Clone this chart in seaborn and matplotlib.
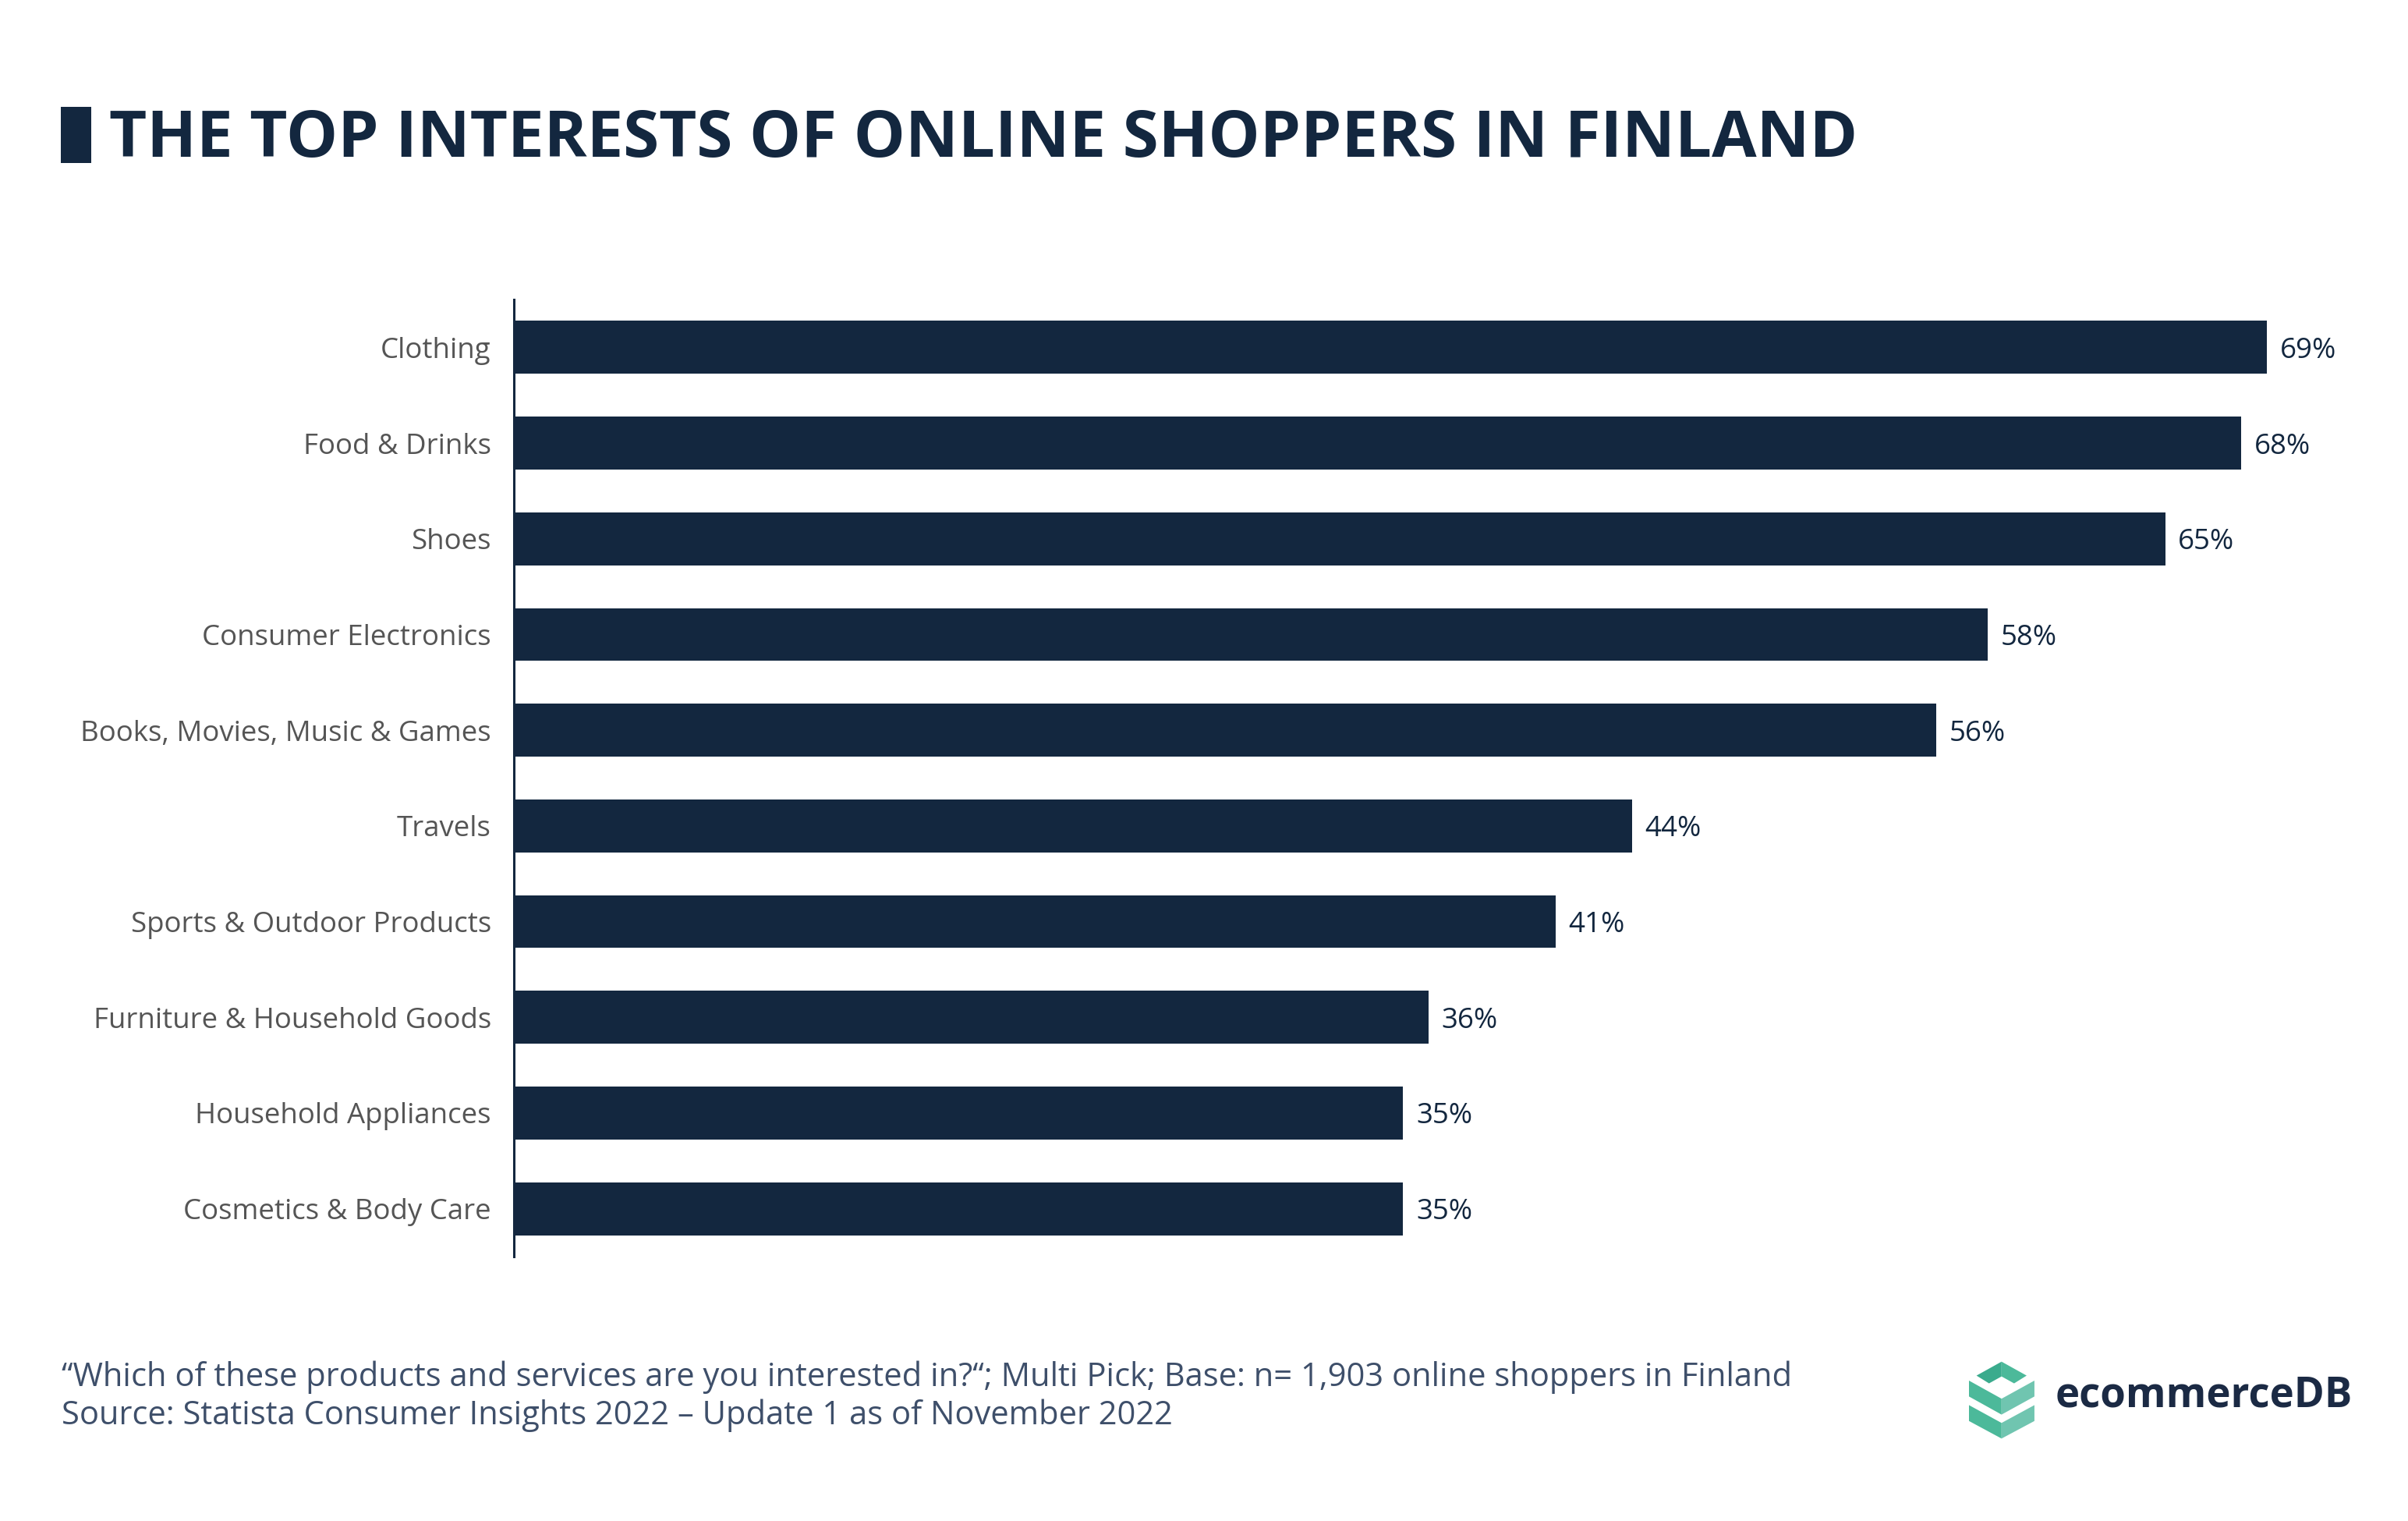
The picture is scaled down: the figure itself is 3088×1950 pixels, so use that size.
import matplotlib
matplotlib.use("Agg")
import matplotlib.pyplot as plt
from matplotlib.patches import Polygon, Rectangle
import seaborn as sns
import pandas as pd

categories = ["Clothing", "Food & Drinks", "Shoes", "Consumer Electronics",
              "Books, Movies, Music & Games", "Travels", "Sports & Outdoor Products",
              "Furniture & Household Goods", "Household Appliances", "Cosmetics & Body Care"]
values = [69, 68, 65, 58, 56, 44, 41, 36, 35, 35]

title = "THE TOP INTERESTS OF ONLINE SHOPPERS IN FINLAND"
footer1 = "\u201cWhich of these products and services are you interested in?\u201c; Multi Pick; Base: n= 1,903 online shoppers in Finland"
footer2 = "Source: Statista Consumer Insights 2022 \u2013 Update 1 as of November 2022"

NAVY = "#13273f"
W, H = 3088, 1950
DPI = 200

sns.set_theme(style="white")
plt.rcParams['font.family'] = ['Open Sans', 'DejaVu Sans']

df = pd.DataFrame({"category": categories, "value": values})

fig = plt.figure(figsize=(W / DPI, H / DPI), dpi=DPI)
ax = fig.add_axes([659 / W, 1 - 1611 / H, (3040 - 659) / W, (1611 - 384) / H])

sns.barplot(data=df, x="value", y="category", color=NAVY, width=0.553,
            saturation=1, ax=ax, orient="h")
for p in ax.patches:
    p.set_edgecolor("none")

ax.set_xlim(0, (3040 - 659) / 32.58)
ax.set_ylim(9.5, -0.5)
ax.set_xlabel("")
ax.set_ylabel("")
ax.set_xticks([])
for s in ["top", "right", "bottom"]:
    ax.spines[s].set_visible(False)
ax.spines["left"].set_color(NAVY)
ax.spines["left"].set_linewidth(1.1)
ax.tick_params(axis="y", length=0, pad=10.5, labelsize=13.2, labelcolor="#555555")

anns = ax.bar_label(ax.containers[0], labels=[f"{v}%" for v in values], padding=6,
                    fontsize=13.2, color=NAVY)
for a in anns:
    a.set_verticalalignment("center_baseline")

# decoration overlay in pixel coordinates
deco = fig.add_axes([0, 0, 1, 1], zorder=-1)
deco.set_xlim(0, W)
deco.set_ylim(H, 0)
deco.axis("off")
deco.add_patch(Rectangle((78, 137), 39, 72, facecolor=NAVY, edgecolor="none"))

fig.text(140 / W, 1 - 180 / H, title, fontsize=30, fontweight="bold", color=NAVY,
         va="center", ha="left")

fig.text(79 / W, 1 - 1766 / H, footer1, fontsize=15, color="#3e4f6a", va="center", ha="left")
fig.text(79 / W, 1 - 1815 / H, footer2, fontsize=15, color="#3e4f6a", va="center", ha="left")

# logo icon
def pt(px, py):
    return (2500 + px / 2.8, 1720 + py / 2.8)

dark, mid, light = "#3aab8d", "#4cb99a", "#70c5b0"
shapes = [
    ([(97, 122), (187, 72), (187, 125), (142, 150)], dark),
    ([(187, 72), (277, 122), (232, 150), (187, 125)], mid),
    ([(70, 140), (187, 205), (187, 262), (70, 197)], mid),
    ([(187, 205), (305, 140), (305, 197), (187, 262)], light),
    ([(70, 228), (187, 292), (187, 348), (70, 285)], mid),
    ([(187, 292), (305, 228), (305, 285), (187, 348)], light),
]
for pts, c in shapes:
    deco.add_patch(Polygon([pt(*q) for q in pts], closed=True, facecolor=c, edgecolor="none"))

fig.text(2636 / W, 1 - 1790 / H, "ecommerceDB", fontsize=19, fontweight="bold",
         color="#1b2a44", va="center", ha="left")

fig.savefig("out.png", dpi=DPI, facecolor="white")
